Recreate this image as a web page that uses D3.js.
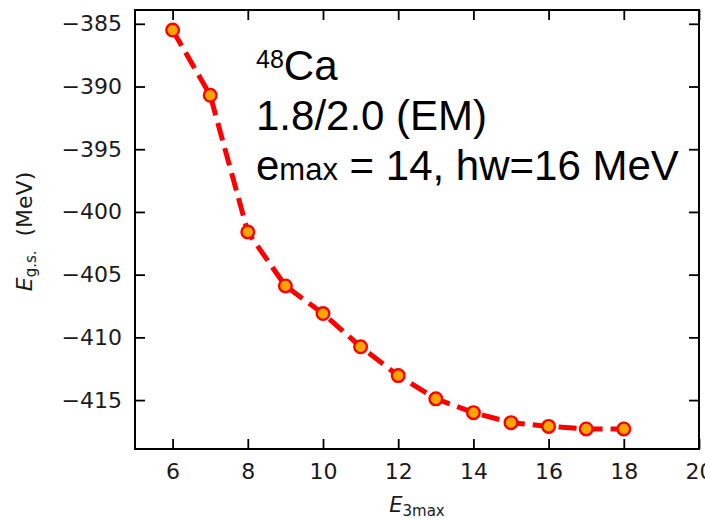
<!DOCTYPE html>
<html>
<head>
    <meta charset="utf-8" />
    <title>48Ca E3max</title>
    <script src="https://cdn.jsdelivr.net/npm/d3@7"></script>
    <style>
        body { margin: 0; background: #fff; }
        .axis path, .axis line { stroke: #000; stroke-width: 1.8; }
    </style>
</head>
<body>
<svg id="chart" width="705" height="520"></svg>
<script>

// data
var e3max = [6, 7, 8, 9, 10, 11, 12, 13, 14, 15, 16, 17, 18];
var energy = [-385.5, -390.7, -401.6, -405.9, -408.1, -410.75, -413.05, -414.9, -416.0, -416.8, -417.1, -417.3, -417.3];
var xTicks = [6, 8, 10, 12, 14, 16, 18, 20];
var yTicks = [-385, -390, -395, -400, -405, -410, -415];

var svg = d3.select("#chart");
var pl = 135, pr = 699, pt = 10, pb = 449;

var x = d3.scaleLinear().domain([5, 20]).range([pl, pr]);
var y = d3.scaleLinear().domain([-418.9, -383.9]).range([pb, pt]);

// frame + inward ticks
svg.append("g").attr("class", "axis")
    .attr("transform", "translate(0," + pb + ")")
    .call(d3.axisBottom(x).tickValues(xTicks).tickSizeInner(-10).tickSizeOuter(0).tickPadding(14).tickFormat(d3.format("d")));
svg.append("g").attr("class", "axis")
    .attr("transform", "translate(0," + pt + ")")
    .call(d3.axisTop(x).tickValues(xTicks).tickSizeInner(-10).tickSizeOuter(0).tickFormat(""));
svg.append("g").attr("class", "axis")
    .attr("transform", "translate(" + pl + ",0)")
    .call(d3.axisLeft(y).tickValues(yTicks).tickSizeInner(-10).tickSizeOuter(0).tickPadding(13).tickFormat(d3.format("d")));
svg.append("g").attr("class", "axis")
    .attr("transform", "translate(" + pr + ",0)")
    .call(d3.axisRight(y).tickValues(yTicks).tickSizeInner(-10).tickSizeOuter(0).tickFormat(""));

svg.selectAll(".axis .domain").remove();
svg.selectAll(".axis .tick text")
    .attr("font-family", "DejaVu Sans, sans-serif")
    .attr("font-size", "22px")
    .attr("fill", "#1a1a1a");

svg.append("rect")
    .attr("x", pl).attr("y", pt)
    .attr("width", pr - pl).attr("height", pb - pt)
    .attr("fill", "none").attr("stroke", "#000").attr("stroke-width", 2);

var pts = e3max.map(function(d, i) { return [d, energy[i]]; });

var line = d3.line()
    .x(function(d) { return x(d[0]); })
    .y(function(d) { return y(d[1]); });

svg.append("path")
    .datum(pts)
    .attr("d", line)
    .attr("fill", "none")
    .attr("stroke", "#ff0000")
    .attr("stroke-width", 5)
    .attr("stroke-dasharray", "18,8");

svg.selectAll("circle.pt")
    .data(pts)
    .enter()
    .append("circle")
    .attr("class", "pt")
    .attr("cx", function(d) { return x(d[0]); })
    .attr("cy", function(d) { return y(d[1]); })
    .attr("r", 6.3)
    .attr("fill", "#ffa500")
    .attr("stroke", "#ff0000")
    .attr("stroke-width", 2.4);

// axis labels
var xl = svg.append("text")
    .attr("x", (pl + pr) / 2)
    .attr("y", 512)
    .attr("text-anchor", "middle")
    .attr("font-family", "DejaVu Sans, sans-serif")
    .attr("font-size", "21px")
    .attr("fill", "#1a1a1a");
xl.append("tspan").attr("font-style", "italic").text("E");
xl.append("tspan").attr("font-size", "15px").attr("dy", 4).text("3max");

var yl = svg.append("text")
    .attr("transform", "translate(32," + ((pt + pb) / 2 + 2) + ") rotate(-90)")
    .attr("text-anchor", "middle")
    .attr("font-family", "DejaVu Sans, sans-serif")
    .attr("font-size", "22px")
    .attr("fill", "#1a1a1a");
yl.append("tspan").attr("font-style", "italic").text("E");
yl.append("tspan").attr("font-size", "15px").attr("dy", 4).text("g.s.");
yl.append("tspan").attr("dy", -4).text("\u00a0\u00a0(MeV)");

// annotation
var ann = svg.append("g")
    .attr("font-family", "Liberation Sans, Arial, sans-serif")
    .attr("fill", "#000");
var t1 = ann.append("text").attr("x", 256).attr("y", 80).attr("font-size", "42px");
t1.append("tspan").attr("font-size", "25px").attr("dy", -12).text("48");
t1.append("tspan").attr("dy", 12).text("Ca");
ann.append("text").attr("x", 256).attr("y", 130).attr("font-size", "42px").text("1.8/2.0 (EM)");
var t3 = ann.append("text").attr("x", 256).attr("y", 180).attr("font-size", "42px");
t3.append("tspan").text("e");
t3.append("tspan").attr("font-size", "31px").text("max");
t3.append("tspan").text(" = 14, hw=16 MeV");

</script>
</body>
</html>
